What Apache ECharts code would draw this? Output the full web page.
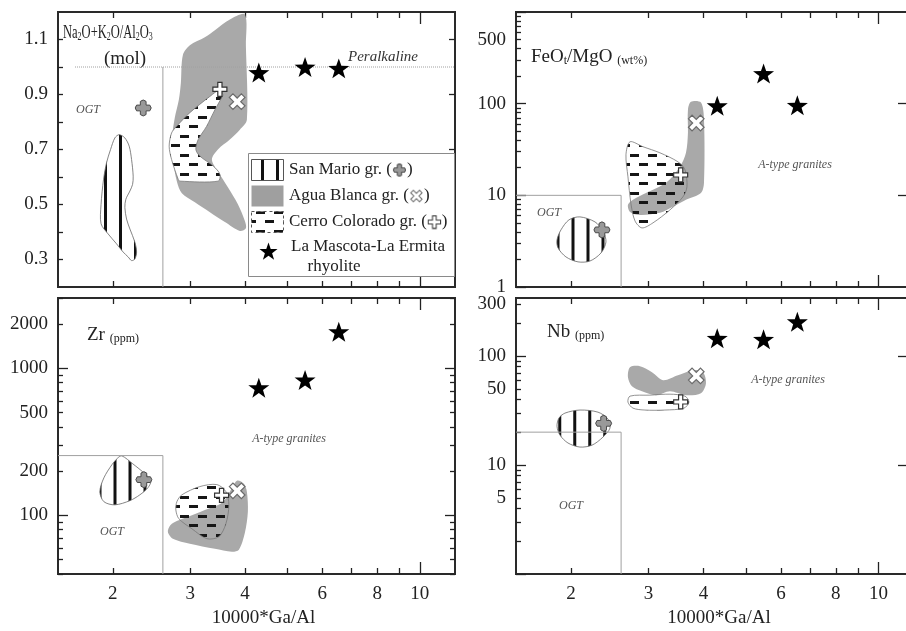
<!DOCTYPE html>
<html><head><meta charset="utf-8">
<script src="https://cdn.jsdelivr.net/npm/echarts@6/dist/echarts.min.js"></script>
<style>html,body{margin:0;padding:0;background:#fff}#c{width:906px;height:631px}</style>
</head><body><div id="c"></div>
<script>
// ---------------- data (x = 10000*Ga/Al) ----------------
const xTicks = [2,3,4,5,6,7,8,9];
const xLongTicks = [10];
const xLabels = [2,3,4,6,8,10];

const naTicks = [0.3,0.4,0.5,0.6,0.7,0.8,0.9,1.0,1.1];
const naLabels = [0.3,0.5,0.7,0.9,1.1];
const feMajor = [1,10,100,1000];
const feMinor = [2,3,4,5,6,7,8,9,20,30,40,50,60,70,80,90,200,300,400,500,600,700,800,900];
const feLabels = [1,10,100,500];
const feRight = [10,100];
const zrMajor = [100,1000];
const zrMinor = [40,50,60,70,80,90,200,300,400,500,600,700,800,900,2000,3000];
const zrLabels = [100,200,500,1000,2000];
const nbMajor = [1,10,100];
const nbMinor = [2,3,4,5,6,7,8,9,20,30,40,50,60,70,80,90,200,300];
const nbLabels = [5,10,50,100,300];
const nbRight = [10,100];

const starGaAl = [4.3, 5.48, 6.54];
const naStars = [0.98, 1.0, 0.995];
const feStars = [95, 213, 96];
const zrStars = [738, 833, 1771];
const nbStars = [145, 142, 206];

const naSanMario = [[2.067,0.754],[2.13,0.742],[2.179,0.712],[2.206,0.664],[2.225,0.603],[2.218,0.573],[2.187,0.549],[2.141,0.519],[2.13,0.489],[2.149,0.447],[2.187,0.411],[2.245,0.363],[2.265,0.327],[2.245,0.302],[2.206,0.296],[2.168,0.309],[2.111,0.327],[2.039,0.357],[1.951,0.393],[1.88,0.43],[1.88,0.50],[1.905,0.592],[1.935,0.652],[1.976,0.700],[2.021,0.742]];
const naAguaBlanca = [[3.694,1.173],[3.997,1.191],[4.018,1.079],[4.039,0.808],[3.893,0.772],[3.694,0.736],[3.470,0.700],[3.362,0.664],[3.470,0.620],[3.656,0.563],[3.853,0.501],[3.997,0.440],[4.018,0.414],[3.893,0.404],[3.599,0.436],[3.327,0.472],[3.075,0.508],[2.872,0.541],[2.798,0.584],[2.740,0.664],[2.725,0.736],[2.768,0.816],[2.827,0.881],[2.857,0.942],[2.887,1.043],[2.995,1.079],[3.240,1.108],[3.415,1.134]];
const naCerroColorado = [[3.506,0.917],[3.561,0.899],[3.537,0.888],[3.415,0.844],[3.269,0.784],[3.129,0.736],[3.091,0.700],[3.156,0.676],[3.385,0.640],[3.506,0.610],[3.475,0.585],[2.842,0.585],[2.817,0.592],[2.721,0.664],[2.687,0.712],[2.721,0.760],[2.793,0.784],[2.995,0.834],[3.327,0.893]];
const naSanMarioPt = [2.345, 0.851];
const naAguaBlancaPt = [3.838, 0.874];
const naCerroColoradoPt = [3.506, 0.919];
const naPeralkalineLine = [[1.64, 1.0], [12.03, 1.0]];
const naOgtLine = [[2.6, 0.2], [2.6, 1.0]];

const feSanMario = [[2.096,5.82],[2.268,5.13],[2.364,4.09],[2.402,3.10],[2.340,2.35],[2.209,1.92],[2.075,1.88],[1.948,2.13],[1.869,2.67],[1.859,3.26],[1.898,4.20],[1.979,5.40]];
const feAguaBlanca = [[3.748,105],[3.949,103],[4.012,66.9],[4.012,13.7],[3.949,10.6],[3.651,8.93],[3.411,7.49],[3.186,6.44],[2.870,6.12],[2.724,6.60],[2.695,7.87],[2.767,8.93],[2.961,10.6],[3.288,13.7],[3.538,20.5],[3.651,29.1],[3.689,48.2],[3.689,86.0]];
const feCerroColorado = [[2.724,38.4],[2.915,33.9],[3.186,29.1],[3.501,23.2],[3.632,19.0],[3.670,12.4],[3.594,9.63],[3.358,6.94],[3.072,5.01],[2.900,4.41],[2.796,5.26],[2.738,8.07],[2.695,15.9],[2.667,27.7]];
const feSanMarioPt = [2.352, 4.2];
const feAguaBlancaPt = [3.853, 61.5];
const feCerroColoradoPt = [3.551, 16.7];
const feOgtBox = [[1.5,10],[2.6,10],[2.6,1]];

const zrSanMario = [[2.097,254],[2.221,224],[2.365,192],[2.441,172],[2.403,154],[2.304,138],[2.187,126],[2.021,118],[1.908,124],[1.868,145],[1.908,180],[1.990,221],[2.053,246]];
const zrAguaBlanca = [[3.833,172],[3.976,164],[4.039,145],[4.060,106],[3.997,76.3],[3.873,58.5],[3.733,56.7],[3.415,59.4],[2.995,64.3],[2.740,69.5],[2.669,77.5],[2.725,87.8],[2.964,98.0],[3.240,109],[3.543,122],[3.694,145]];
const zrCerroColorado = [[2.872,138],[3.156,157],[3.451,162],[3.618,145],[3.675,118],[3.618,87.8],[3.487,71.7],[3.274,69.5],[3.027,81.2],[2.827,95.0],[2.783,109],[2.798,124]];
const zrSanMarioPt = [2.353, 175];
const zrAguaBlancaPt = [3.838, 147];
const zrCerroColoradoPt = [3.537, 137];
const zrOgtBox = [[1.5,255],[2.6,255],[2.6,40]];

const nbSanMario = [[1.938,29.9],[2.096,31.9],[2.304,30.5],[2.427,26.4],[2.453,21.8],[2.364,18.0],[2.233,15.2],[2.096,14.6],[1.969,15.9],[1.888,18.8],[1.859,22.7],[1.878,26.9]];
const nbAguaBlanca = [[2.724,78.8],[2.870,80.5],[3.056,70.9],[3.238,60.0],[3.501,66.6],[3.788,74.0],[3.991,70.9],[4.054,56.3],[3.949,45.6],[3.651,43.7],[3.358,47.5],[3.121,43.7],[2.900,47.5],[2.752,52.8],[2.695,63.8]];
const nbCerroColorado = [[2.724,42.8],[3.024,43.7],[3.358,44.6],[3.632,42.8],[3.708,37.7],[3.613,33.2],[3.271,31.9],[2.946,31.9],[2.767,33.2],[2.695,37.7]];
const nbSanMarioPt = [2.373, 24.1];
const nbAguaBlancaPt = [3.853, 65.6];
const nbCerroColoradoPt = [3.551, 37.9];
const nbOgtBox = [[1.5,20],[2.6,20],[2.6,1]];

// ---------------- styling ----------------
const FONT = '"Liberation Serif","Times New Roman",serif';
const INK = '#222';
const GRAY = '#a9a9a9';
const L = Math.log10;

function makeCanvas(w,h,draw){const c=document.createElement('canvas');c.width=w;c.height=h;draw(c.getContext('2d'));return c;}
const stripeImg = makeCanvas(15,4,g=>{g.fillStyle='#fff';g.fillRect(0,0,15,4);g.fillStyle='#111';g.fillRect(0,0,3,4);});
const dashClear = makeCanvas(18,19,g=>{g.fillStyle='#161616';g.fillRect(0,2,9,3);g.fillRect(9,11,9,3);});
const dashWhite = makeCanvas(18,19,g=>{g.fillStyle='#fff';g.fillRect(0,0,18,19);g.fillStyle='#161616';g.fillRect(0,2,9,3);g.fillRect(9,11,9,3);});
const pat = (img,x,y)=>({image:img, repeat:'repeat', x:x||0, y:y||0});

const PLUS = 'M7,0H13V7H20V13H13V20H7V13H0V7H7Z';
const ROUNDCROSS = 'M6.5,2Q10,-1.5 13.5,2V6.5H18Q21.5,10 18,13.5H13.5V18Q10,21.5 6.5,18V13.5H2Q-1.5,10 2,6.5H6.5Z';
const STAR_PTS = [[10,0],[12.35,6.76],[19.51,6.91],[13.8,11.24],[15.88,18.09],[10,14],[4.12,18.09],[6.2,11.24],[0.49,6.91],[7.65,6.76]];
const STAR = 'M' + STAR_PTS.map(q=>q.join(',')).join('L') + 'Z';

function iconImg(d, fill, stroke, rot){
  return makeCanvas(16,16,g=>{g.translate(8,8);g.rotate(rot||0);g.scale(0.66,0.66);g.translate(-10,-10);
    const p=new Path2D(d);g.fillStyle=fill;g.fill(p);g.lineWidth=1.6;g.strokeStyle=stroke;g.stroke(p);});
}

const P = [
 {grid:{left:58,top:12,width:397,height:275}, xmax:12.03, log:false, ymin:0.2, ymax:1.2,
  yMinor:naTicks, yMajor:[], yLabels:naLabels, yRightMajor:naLabels, yRightMinor:[], xLab:false, stripeX:14, ccOpaque:true,
  sm:naSanMario, ab:naAguaBlanca, cc:naCerroColorado, smPt:naSanMarioPt, abPt:naAguaBlancaPt, ccPt:naCerroColoradoPt,
  stars:naStars, lines:[{d:naPeralkalineLine, dash:true},{d:naOgtLine}]},
 {grid:{left:516,top:12,width:392,height:275}, xmax:11.67, log:true, ymin:1, ymax:1000,
  yMinor:feMinor, yMajor:feMajor, yLabels:feLabels, yRightMajor:feRight, yRightMinor:[], xLab:false, stripeX:1.5, ccOpaque:false,
  sm:feSanMario, ab:feAguaBlanca, cc:feCerroColorado, smPt:feSanMarioPt, abPt:feAguaBlancaPt, ccPt:feCerroColoradoPt,
  stars:feStars, lines:[{d:feOgtBox}]},
 {grid:{left:58,top:298,width:397,height:276}, xmax:12.03, log:true, ymin:40, ymax:3000,
  yMinor:zrMinor, yMajor:zrMajor, yLabels:zrLabels, yRightMajor:zrMajor, yRightMinor:zrMinor, xLab:true, stripeX:8.5, ccOpaque:false,
  sm:zrSanMario, ab:zrAguaBlanca, cc:zrCerroColorado, smPt:zrSanMarioPt, abPt:zrAguaBlancaPt, ccPt:zrCerroColoradoPt,
  stars:zrStars, lines:[{d:zrOgtBox}]},
 {grid:{left:516,top:298,width:392,height:276}, xmax:11.67, log:true, ymin:1, ymax:340,
  yMinor:nbMinor, yMajor:nbMajor, yLabels:nbLabels, yRightMajor:nbRight, yRightMinor:[], xLab:true, stripeX:3.2, ccOpaque:false,
  sm:nbSanMario, ab:nbAguaBlanca, cc:nbCerroColorado, smPt:nbSanMarioPt, abPt:nbAguaBlancaPt, ccPt:nbCerroColoradoPt,
  stars:nbStars, lines:[{d:nbOgtBox}]}
];

const xAxes=[], yAxes=[], series=[];
const tickStyle = {color:INK, width:1.3};

P.forEach((p,gi)=>{
  const ty = p.log ? L : (v=>v);
  const fmtX = v=>String(Math.round(Math.pow(10,v)));
  const fmtY = p.log ? (v=>String(Math.round(Math.pow(10,v)))) : (v=>v.toFixed(1));
  const xa = (pos, ticks, len, labels, name) => ({
    type:'value', gridIndex:gi, position:pos, min:L(1.5), max:L(p.xmax),
    axisLine:{show:false,onZero:false}, splitLine:{show:false},
    axisTick:{show:true, inside:true, length:len, customValues:ticks.map(L), lineStyle:tickStyle},
    axisLabel: labels ? {show:true, customValues:labels.map(L), formatter:fmtX, margin:11, fontFamily:FONT, fontSize:19, color:INK} : {show:false},
    name: name||'', nameLocation:'middle', nameGap:35,
    nameTextStyle:{fontFamily:FONT, fontSize:19, color:INK, padding:[0,0,0,14]}
  });
  const ya = (pos, ticks, len, labels) => ({
    type:'value', gridIndex:gi, position:pos, min:ty(p.ymin), max:ty(p.ymax),
    axisLine:{show:false,onZero:false}, splitLine:{show:false},
    axisTick:{show:ticks.length>0, inside:true, length:len, customValues:ticks.map(ty), lineStyle:tickStyle},
    axisLabel: labels ? {show:true, customValues:labels.map(ty), formatter:fmtY, margin:10, fontFamily:FONT, fontSize:19, color:INK} : {show:false}
  });
  p.xi = xAxes.length;
  xAxes.push(xa('bottom', xTicks, 6, p.xLab ? xLabels : null, p.xLab ? '10000*Ga/Al' : ''));
  xAxes.push(xa('bottom', xLongTicks, 12, null));
  xAxes.push(xa('top', xTicks, 6, null));
  xAxes.push(xa('top', xLongTicks, 12, null));
  p.yi = yAxes.length;
  yAxes.push(ya('left', p.yMinor, 5, p.yLabels));
  yAxes.push(ya('left', p.yMajor, 10, null));
  yAxes.push(ya('right', p.yRightMajor, p.log ? 10 : 6, null));
  yAxes.push(ya('right', p.yRightMinor, 5, null));

  const tr = q => [L(q[0]), ty(q[1])];
  const poly = (pts, style, z) => {
    const data = pts.map(tr);
    return {type:'custom', coordinateSystem:'cartesian2d', xAxisIndex:p.xi, yAxisIndex:p.yi, z, silent:true, animation:false,
      data, renderItem:(params, api)=>{
        if (params.dataIndex !== 0) return null;
        return {type:'polygon', shape:{points:data.map(d=>api.coord(d)), smooth:0.3}, style};
      }};
  };
  series.push(poly(p.ab, {fill:GRAY}, 2));
  series.push(poly(p.cc, {fill:pat(p.ccOpaque?dashWhite:dashClear, 0, 0), stroke:'#777', lineWidth:0.8}, 3));
  series.push(poly(p.sm, {fill:pat(stripeImg, p.stripeX, 0), stroke:'#666', lineWidth:0.8}, 3));
  p.lines.forEach(ln=>{
    series.push({type:'line', xAxisIndex:p.xi, yAxisIndex:p.yi, data:ln.d.map(tr), symbol:'none', silent:true, z:4, animation:false,
      lineStyle:{color:'#a0a0a0', width:1, type: ln.dash ? 'dotted' : 'solid'}});
  });
  const sc = (arr, sym, size, style, rot, z) => ({type:'scatter', xAxisIndex:p.xi, yAxisIndex:p.yi, data:arr.map(tr),
    symbol:'path://'+sym, symbolSize:size, symbolRotate:rot||0, symbolKeepAspect:true,
    itemStyle:Object.assign({opacity:1}, style), silent:true, z, animation:false});
  series.push(sc([p.smPt], ROUNDCROSS, 16, {color:'#999', borderColor:'#4a4a4a', borderWidth:1}, 0, 6));
  series.push(sc([p.abPt], PLUS, 17, {color:'#fff', borderColor:'#6a6a6a', borderWidth:1.2}, 45, 6));
  series.push(sc([p.ccPt], PLUS, 14, {color:'#fff', borderColor:'#333', borderWidth:1.2}, 0, 6));
  series.push(sc(starGaAl.map((x,i)=>[x, p.stars[i]]), STAR, 21, {color:'#000'}, 0, 7));
});

// ---------------- text & legend ----------------
const txt = (x,y,text,st,extra)=>Object.assign({type:'text', x, y, silent:true, z:50,
  style:Object.assign({text, fill:INK, fontFamily:FONT, fontSize:18, align:'left', verticalAlign:'middle'}, st)}, extra||{});
const subRich = {
  m:{fontFamily:FONT, fontSize:19, lineHeight:22, verticalAlign:'bottom', fill:INK},
  s:{fontFamily:FONT, fontSize:12, lineHeight:9, verticalAlign:'bottom', fill:INK},
  u:{fontFamily:FONT, fontSize:12, lineHeight:18, verticalAlign:'bottom', fill:INK}
};
const icSM = iconImg(ROUNDCROSS,'#999','#4a4a4a',0);
const icAB = iconImg(PLUS,'#fff','#666',Math.PI/4);
const icCC = iconImg(PLUS,'#fff','#333',0);
const legRich = {
  t:{fontFamily:FONT, fontSize:17, fill:INK},
  a:{width:15, height:15, backgroundColor:{image:icSM}},
  b:{width:15, height:15, backgroundColor:{image:icAB}},
  c:{width:15, height:15, backgroundColor:{image:icCC}}
};
const italic = (x,y,t,size,col)=>txt(x,y,t,{fontStyle:'italic', fontSize:size, fill:col||'#444', align:'center'});

const graphics = [
  txt(63,32,'{m|Na}{s|2}{m|O+K}{s|2}{m|O/Al}{s|2}{m|O}{s|3}',{rich:subRich},{scaleX:0.66}),
  txt(125,59,'(mol)',{fontSize:19, align:'center'}),
  txt(531,56,'{m|FeO}{s|t}{m|/MgO }{u|(wt%)}',{rich:subRich}),
  txt(87,334,'{m|Zr }{u|(ppm)}',{rich:subRich}),
  txt(547,331,'{m|Nb }{u|(ppm)}',{rich:subRich}),
  italic(383,57,'Peralkaline',15,'#333'),
  italic(88,110,'OGT',12,'#555'),
  italic(549,213,'OGT',12,'#555'),
  italic(795,165,'A-type granites',12,'#555'),
  italic(112,532,'OGT',12,'#555'),
  italic(289,439,'A-type granites',12,'#555'),
  italic(571,506,'OGT',12,'#555'),
  italic(788,380,'A-type granites',12,'#555'),
  {type:'rect', z:60, silent:true, shape:{x:248.5,y:153.5,width:206,height:123}, style:{fill:'#fff', stroke:'#8a8a8a', lineWidth:1}},
  {type:'rect', z:61, silent:true, shape:{x:251.5,y:159.5,width:32,height:21}, style:{fill:pat(stripeImg,6,0), stroke:'#555', lineWidth:1}},
  {type:'rect', z:61, silent:true, shape:{x:251.5,y:185.5,width:32,height:21}, style:{fill:'#9f9f9f'}},
  {type:'rect', z:61, silent:true, shape:{x:251.5,y:211.5,width:32,height:21}, style:{fill:pat(dashWhite,4,0), stroke:'#555', lineWidth:1, lineDash:[3,3]}},
  txt(289,170,'{t|San Mario gr. (}{a|}{t|)}',{rich:legRich},{z:62}),
  txt(289,196,'{t|Agua Blanca gr. (}{b|}{t|)}',{rich:legRich},{z:62}),
  txt(289,222,'{t|Cerro Colorado gr. (}{c|}{t|)}',{rich:legRich},{z:62}),
  {type:'polygon', z:62, silent:true, x:259, y:242.5, scaleX:0.95, scaleY:0.95, shape:{points:STAR_PTS}, style:{fill:'#000'}},
  txt(368,247,'La Mascota-La Ermita',{fontSize:17, align:'center'},{z:62}),
  txt(334,267,'rhyolite',{fontSize:17, align:'center'},{z:62})
];

const chart = echarts.init(document.getElementById('c'), null, {renderer:'canvas'});
chart.setOption({
  animation:false,
  backgroundColor:'#fff',
  grid: P.map(p=>Object.assign({}, p.grid, {show:true, borderColor:'#2a2a2a', borderWidth:2, backgroundColor:'transparent', containLabel:false, outerBoundsMode:'none'})),
  xAxis: xAxes,
  yAxis: yAxes,
  series,
  graphic: graphics
});
</script>
</body></html>
